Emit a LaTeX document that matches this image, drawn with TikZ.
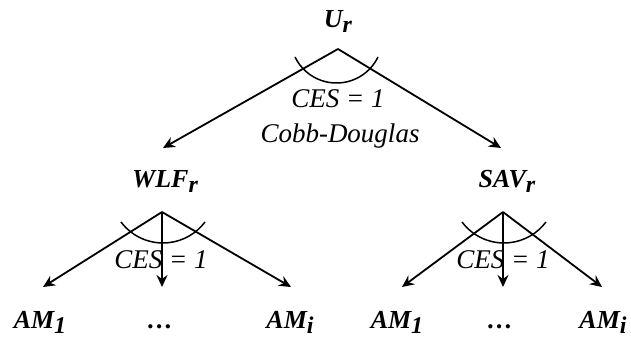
\documentclass[tikz,border=0pt]{standalone}
\usepackage{fontspec}
\setmainfont{Liberation Serif}
\usetikzlibrary{arrows.meta}
\newcommand\lowsub[1]{\raisebox{-5pt}{\fontsize{24}{24}\selectfont #1}}
\tikzset{
  lbl/.style={anchor=base,inner sep=0pt,font=\fontsize{26}{28}\selectfont\bfseries\itshape},
  ces/.style={anchor=base,inner sep=0pt,font=\fontsize{27}{30}\selectfont\itshape},
  arr/.style={line width=1.8pt,-{Stealth[length=12pt,width=11pt,inset=4pt]}},
  arcline/.style={line width=1.5pt}
}
\begin{document}
\begin{tikzpicture}[x=1pt,y=1pt]
\useasboundingbox (0,0) rectangle (631,-339);
% labels
\node[lbl] (U) at (338,-28) {U\lowsub{r}};
\node[lbl] (W) at (165,-187) {WLF\lowsub{r}};
\node[lbl] (S) at (507,-187) {SAV\lowsub{r}};
\node[lbl] (A1) at (40,-328) {AM\lowsub{1}};
\node[lbl] (D1) at (160,-328) {…};
\node[lbl] (Ai) at (290,-328) {AM\lowsub{i}};
\node[lbl] (A2) at (397,-328) {AM\lowsub{1}};
\node[lbl] (D2) at (500,-328) {…};
\node[lbl] (Aj) at (603,-328) {AM\lowsub{i}};
% apex and tip coordinates
\coordinate (pU) at (338,-49);
\coordinate (pW) at (162,-212);
\coordinate (pS) at (503,-212);
\coordinate (tW) at (163,-148);
\coordinate (tS) at (501,-148);
\coordinate (tA1) at (43,-287);
\coordinate (tD1) at (162,-287);
\coordinate (tAi) at (291,-287);
\coordinate (tA2) at (402,-287);
\coordinate (tD2) at (503,-287);
\coordinate (tAj) at (602,-287);
% connectors
\draw[arr] (pU) -- (tW);
\draw[arr] (pU) -- (tS);
\draw[arr] (pW) -- (tA1);
\draw[arr] (pW) -- (tD1);
\draw[arr] (pW) -- (tAi);
\draw[arr] (pS) -- (tA2);
\draw[arr] (pS) -- (tD2);
\draw[arr] (pS) -- (tAj);
% arcs
\draw[arcline] (295,-57) arc[start angle=-154.2,end angle=-25.8,radius=46.1];
\draw[arcline] (121,-222) arc[start angle=-143.1,end angle=-36.9,radius=52.5];
\draw[arcline] (462,-222) arc[start angle=-143.1,end angle=-36.9,radius=52.5];
% elasticity labels
\node[ces] (c1) at (338,-108) {CES = 1};
\node[ces] (cd) at (340,-143) {Cobb-Douglas};
\node[ces] (c2) at (161,-268) {CES = 1};
\node[ces] (c3) at (503,-268) {CES = 1};
\end{tikzpicture}
\end{document}
